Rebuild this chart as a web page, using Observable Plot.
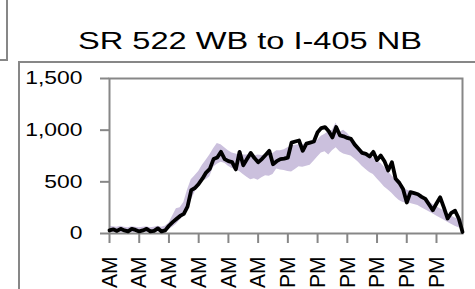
<!DOCTYPE html>
<html><head><meta charset="utf-8">
<script src="https://cdn.jsdelivr.net/npm/d3@7"></script>
<script src="https://cdn.jsdelivr.net/npm/@observablehq/plot@0.6"></script>
<style>
html,body{margin:0;padding:0;background:#fff;}
#wrap{position:relative;width:475px;height:289px;overflow:hidden;}
#wrap svg{position:absolute;left:0;top:0;}
.ln{position:absolute;background:#878787;}
</style></head><body>
<div id="wrap">
<div class="ln" style="left:6px;top:0;width:2px;height:61px"></div>
<div class="ln" style="left:0;top:59px;width:8px;height:2px"></div>
<div class="ln" style="left:18px;top:61px;width:2px;height:228px"></div>
<div class="ln" style="left:18px;top:61px;width:457px;height:2px"></div>
</div>
<script>
const title = "SR 522 WB to I-405 NB";
const tickHours = [0, 2, 4, 6, 8, 10, 12, 14, 16, 18, 20, 22];
const tickLabels = ["12:00 AM", "2:00 AM", "4:00 AM", "6:00 AM", "8:00 AM", "10:00 AM",
                    "12:00 PM", "2:00 PM", "4:00 PM", "6:00 PM", "8:00 PM", "10:00 PM"];
const yTicks = [0, 500, 1000, 1500];

// 15-minute volumes for the day (black line)
const volume = [
  30, 40, 25, 45, 30, 20, 45, 35, 20, 30, 45, 20, 25, 50, 20, 30,
  75, 110, 140, 170, 190, 260, 420, 440, 480, 530, 590, 625, 720, 735, 790, 720,
  700, 690, 620, 790, 660, 720, 780, 730, 690, 720, 760, 800, 670, 700, 720,
  725, 735, 880, 890, 900, 800, 870, 880, 890, 980, 1020, 1030, 990, 930, 1030, 950,
  940, 925, 915, 860, 820, 780, 770, 745, 790, 710, 755, 700, 610, 690, 530, 490,
  430, 300, 400, 390, 380, 355, 335, 280, 225, 290, 350, 250, 145, 200, 220, 145, 15
];
// typical range (shaded band)
const rangeHigh = [
  70, 65, 60, 70, 60, 55, 65, 60, 55, 60, 65, 55, 60, 70, 60, 70,
  100, 170, 240, 250, 300, 420, 520, 560, 600, 660, 710, 760, 820, 870, 860, 830,
  800, 780, 770, 760, 760, 760, 760, 750, 760, 755, 760, 770, 775, 800, 800,
  810, 830, 845, 855, 860, 860, 870, 870, 880, 900, 940, 960, 990, 1000, 1070, 980,
  1000, 970, 930, 880, 840, 800, 770, 750, 730, 700, 680, 640, 600, 560, 520, 480,
  440, 420, 410, 390, 370, 360, 345, 310, 280, 260, 240, 220, 190, 170, 150, 140, 130
];
const rangeLow = [
  10, 10, 8, 10, 8, 8, 10, 8, 8, 10, 10, 8, 10, 15, 15, 20,
  40, 60, 90, 130, 170, 230, 320, 400, 470, 510, 520, 550, 640, 670, 690, 680,
  650, 630, 620, 600, 570, 545, 520, 530, 515, 540, 560, 555, 570, 625, 615,
  610, 600, 595, 620, 645, 640, 650, 660, 700, 740, 780, 790, 760, 800, 830, 790,
  770, 760, 750, 720, 690, 650, 620, 590, 570, 530, 490, 450, 420, 390, 350, 320,
  300, 295, 290, 280, 270, 250, 230, 210, 190, 170, 150, 130, 110, 90, 70, 55, 50
];

const hours = volume.map((_, i) => i / 4);
const data = hours.map((h, i) => ({h, v: volume[i], lo: rangeLow[i], hi: rangeHigh[i]}));

const chart = Plot.plot({
  width: 475, height: 289,
  marginLeft: 109, marginRight: 13, marginTop: 78, marginBottom: 56,
  style: {fontFamily: "Liberation Sans", background: "transparent", color: "#000", overflow: "visible"},
  x: {domain: [0, hours[hours.length - 1]], axis: null},
  y: {domain: [0, 1500], axis: null},
  marks: [
    Plot.areaY(data, {x: "h", y1: "lo", y2: "hi", fill: "#cbc0dd", curve: "linear"}),
    Plot.frame({stroke: "#878787", strokeWidth: 2}),
    Plot.axisX({ticks: tickHours, tickFormat: d => tickLabels[tickHours.indexOf(d)], label: null,
      tickSize: 10, tickRotate: -90, tickPadding: 13, fontSize: 21, stroke: "#878787", strokeWidth: 2}),
    Plot.axisY({ticks: yTicks, tickFormat: d3.format(","), tickSize: 9, tickPadding: 18, label: null,
      fontSize: 18, stroke: "#878787", strokeWidth: 2}),
    Plot.lineY(data, {x: "h", y: "v", stroke: "#000", strokeWidth: 3.8, strokeLinejoin: "round"})
  ]
});
document.getElementById("wrap").appendChild(chart);

const svg = d3.select(chart);
svg.selectAll('g[aria-label="y-axis tick label"] text').each(function() {
  const len = this.getComputedTextLength();
  this.setAttribute("textLength", len * 1.27);
  this.setAttribute("lengthAdjust", "spacingAndGlyphs");
});
svg.selectAll('g[aria-label="x-axis tick label"] text').each(function() {
  const t = this.getAttribute("transform") || "";
  this.setAttribute("transform", t + " scale(1,1.07)");
});
const tt = svg.append("text")
  .attr("x", 250).attr("y", 49)
  .attr("text-anchor", "middle")
  .attr("font-size", 24)
  .attr("fill", "#000")
  .text(title);
tt.attr("textLength", 344).attr("lengthAdjust", "spacingAndGlyphs");
</script>
</body></html>
